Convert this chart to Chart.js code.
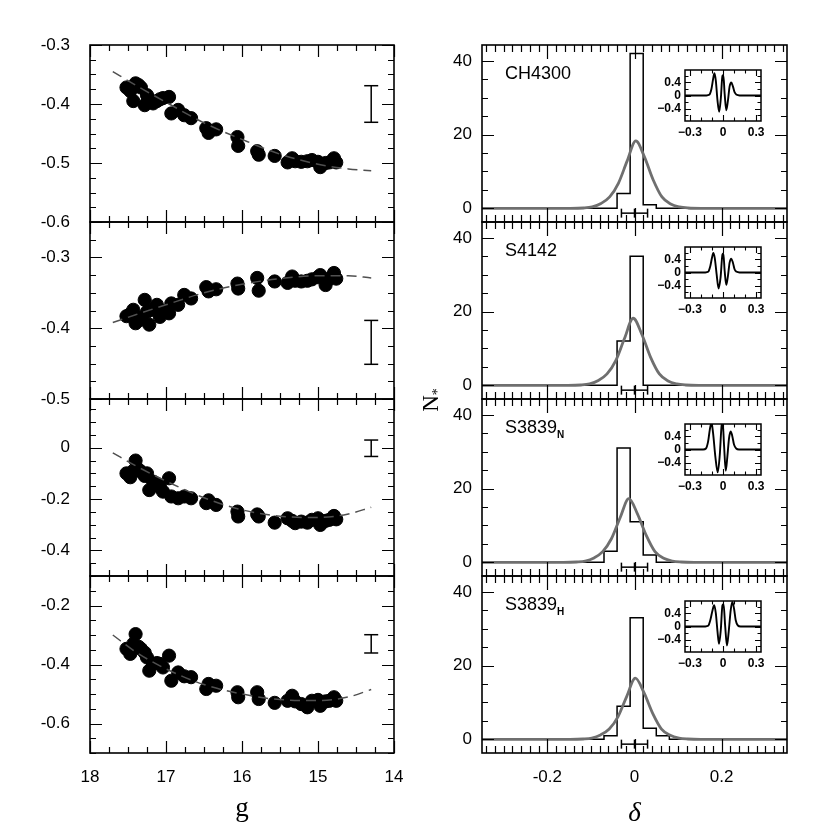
<!DOCTYPE html>
<html><head><meta charset="utf-8">
<script src="https://cdn.jsdelivr.net/npm/chart.js@4.4.1/dist/chart.umd.min.js"></script>
<style>
html,body{margin:0;padding:0;background:#fff;}
#wrap{position:relative;width:830px;height:830px;overflow:hidden;background:#fff;}
canvas{position:absolute;}
.lab{position:absolute;font-family:'Liberation Sans',Arial,sans-serif;font-size:18px;color:#000;white-space:nowrap;line-height:18px;}
.lab sub{font-size:10px;font-weight:bold;vertical-align:-5px;line-height:0;}
.ntitle{position:absolute;font-family:'Liberation Serif','Times New Roman',serif;font-size:23px;color:#000;width:50px;height:26px;line-height:26px;text-align:center;transform:rotate(-90deg);}
.ntitle sub{font-size:14px;vertical-align:-4px;line-height:0;}
</style></head><body><div id="wrap"></div>
<script>
// ---------------- data ----------------
const gMag = [17.52,17.47,17.43,17.40,17.36,17.33,17.28,17.25,17.22,17.17,17.12,17.08,17.04,16.96,16.93,16.84,16.76,16.67,16.47,16.44,16.34,16.06,16.05,15.80,15.78,15.57,15.40,15.34,15.30,15.22,15.14,15.08,15.00,14.97,14.90,14.85,14.79,14.76];
const idxCH4300 = [-0.372,-0.378,-0.395,-0.365,-0.368,-0.372,-0.402,-0.385,-0.392,-0.399,-0.395,-0.392,-0.390,-0.388,-0.416,-0.410,-0.419,-0.424,-0.441,-0.449,-0.443,-0.456,-0.471,-0.480,-0.486,-0.488,-0.499,-0.492,-0.497,-0.498,-0.497,-0.495,-0.498,-0.507,-0.500,-0.499,-0.492,-0.499];
const idxS4142 = [-0.383,-0.380,-0.374,-0.393,-0.385,-0.388,-0.360,-0.377,-0.395,-0.374,-0.367,-0.384,-0.376,-0.379,-0.365,-0.367,-0.353,-0.358,-0.342,-0.348,-0.345,-0.337,-0.344,-0.329,-0.347,-0.334,-0.336,-0.327,-0.333,-0.334,-0.333,-0.331,-0.328,-0.325,-0.339,-0.330,-0.322,-0.330];
const idxS3839N = [-0.100,-0.115,-0.090,-0.050,-0.085,-0.093,-0.110,-0.100,-0.165,-0.132,-0.140,-0.152,-0.171,-0.119,-0.190,-0.197,-0.190,-0.197,-0.216,-0.205,-0.223,-0.249,-0.268,-0.260,-0.268,-0.292,-0.275,-0.285,-0.294,-0.288,-0.292,-0.281,-0.275,-0.301,-0.285,-0.281,-0.266,-0.279];
const idxS3839H = [-0.347,-0.364,-0.330,-0.297,-0.340,-0.347,-0.360,-0.376,-0.421,-0.398,-0.395,-0.398,-0.410,-0.370,-0.455,-0.427,-0.440,-0.443,-0.483,-0.466,-0.472,-0.494,-0.511,-0.494,-0.517,-0.530,-0.523,-0.506,-0.525,-0.534,-0.545,-0.523,-0.520,-0.540,-0.525,-0.523,-0.511,-0.523];

const gFit = [17.7,17.4,17.0,16.5,16.0,15.5,15.0,14.6,14.3];
const fitCH4300 = [-0.345,-0.368,-0.397,-0.432,-0.460,-0.485,-0.502,-0.510,-0.513];
const fitS4142  = [-0.392,-0.381,-0.367,-0.350,-0.338,-0.330,-0.326,-0.326,-0.329];
const fitS3839N = [-0.020,-0.070,-0.130,-0.195,-0.242,-0.267,-0.272,-0.258,-0.232];
const fitS3839H = [-0.300,-0.357,-0.415,-0.468,-0.500,-0.519,-0.522,-0.510,-0.485];

const errG = 14.3;
const errCenter = [-0.400,-0.420,-0.002,-0.330];
const errHalf   = [0.031,0.031,0.032,0.031];

const gTicks = [18,17,16,15,14];
const yTicksLeft = [[-0.6,-0.5,-0.4,-0.3],[-0.5,-0.4,-0.3],[-0.4,-0.2,0],[-0.6,-0.4,-0.2]];
const yRangeLeft = [[-0.6,-0.3],[-0.5,-0.25],[-0.5,0.19],[-0.7,-0.1]];
const yMinorLeft = [0.025,0.025,0.05,0.05];

const labelNames = ['CH4300','S4142','S3839','S3839'];
const labelSubs  = ['','','N','H'];

const histEdges = [[-0.04,-0.01,0.02,0.05],[-0.04,-0.01,0.02],[-0.07,-0.04,-0.01,0.02,0.05],[-0.07,-0.04,-0.01,0.02,0.05,0.08]];
const histCounts = [[4,42,1],[12,35],[3,31,11,2],[1,9,33,3,1]];

const fitDelta1 = [-0.35,-0.147,-0.117,-0.097,-0.077,-0.057,-0.037,-0.017,0.003,0.023,0.043,0.063,0.083,0.103,0.123,0.153,0.35];
const fitN1     = [0,0,0.1,0.4,1.3,3.1,6.8,12.8,18.3,13.9,7.7,3.1,1.2,0.4,0.1,0,0];
const fitDelta2 = [-0.35,-0.153,-0.123,-0.103,-0.083,-0.063,-0.043,-0.023,-0.003,0.017,0.037,0.057,0.077,0.097,0.117,0.147,0.35];
const fitN2     = [0,0,0.1,0.4,1.3,3.1,6.7,12.7,18.2,13.8,7.6,3.1,1.2,0.4,0.1,0,0];
const fitDelta3 = [-0.35,-0.163,-0.133,-0.113,-0.093,-0.073,-0.053,-0.033,-0.013,0.007,0.027,0.047,0.067,0.087,0.107,0.137,0.35];
const fitN3     = [0,0,0.1,0.35,1.2,2.9,6.4,12.1,17.3,13.1,7.3,2.9,1.1,0.35,0.1,0,0];
const fitDelta4 = [-0.35,-0.148,-0.118,-0.098,-0.078,-0.058,-0.038,-0.018,0.002,0.022,0.042,0.062,0.082,0.102,0.122,0.152,0.35];
const fitN4     = [0,0,0.1,0.35,1.2,2.8,6.1,11.6,16.6,12.6,7.0,2.8,1.1,0.35,0.1,0,0];

const errDelta = [-0.03,0,0.03];
const errN = -1.3;

const deltaTicks = [-0.2,0,0.2];
const nTicks = [0,20,40];

const insetX1 = [-0.345,-0.15,-0.125,-0.105,-0.09,-0.078,-0.065,-0.05,-0.035,-0.02,-0.005,0.003,0.015,0.03,0.045,0.06,0.075,0.09,0.105,0.125,0.15,0.345];
const insetY1 = [0,0,0.02,0.2,0.5,0.68,0.45,-0.15,-0.5,-0.1,0.6,0.62,0.05,-0.45,-0.15,0.28,0.4,0.28,0.1,0.02,0,0];
const insetX2 = [-0.345,-0.16,-0.135,-0.115,-0.1,-0.088,-0.075,-0.058,-0.04,-0.022,-0.005,0.003,0.015,0.03,0.045,0.06,0.075,0.09,0.105,0.125,0.15,0.345];
const insetY2 = [0,0,0.02,0.2,0.45,0.6,0.45,-0.05,-0.49,-0.15,0.55,0.58,0.05,-0.38,-0.1,0.3,0.42,0.3,0.1,0.02,0,0];
const insetX3 = [-0.345,-0.18,-0.155,-0.135,-0.12,-0.105,-0.09,-0.07,-0.048,-0.03,-0.012,-0.003,0.01,0.025,0.04,0.055,0.07,0.085,0.1,0.12,0.145,0.345];
const insetY3 = [0,0,0.03,0.25,0.6,0.82,0.5,-0.2,-0.7,-0.2,0.75,0.82,0.1,-0.65,-0.2,0.35,0.55,0.4,0.15,0.03,0,0];
const insetX4 = [-0.345,-0.16,-0.135,-0.115,-0.095,-0.08,-0.065,-0.05,-0.036,-0.02,-0.005,0.005,0.02,0.036,0.052,0.07,0.085,0.1,0.115,0.135,0.16,0.345];
const insetY4 = [0,0,0.02,0.2,0.5,0.65,0.4,-0.15,-0.53,-0.1,0.65,0.68,0.0,-0.58,-0.15,0.5,0.75,0.55,0.2,0.03,0,0];
const insetXTicks = [-0.3,0,0.3];
const insetYTicks = [-0.4,0,0.4];

// ---------------- layout ----------------
const leftIdx = [idxCH4300, idxS4142, idxS3839N, idxS3839H];
const leftFit = [fitCH4300, fitS4142, fitS3839N, fitS3839H];
const rightFitX = [fitDelta1, fitDelta2, fitDelta3, fitDelta4];
const rightFitY = [fitN1, fitN2, fitN3, fitN4];
const insetXs = [insetX1, insetX2, insetX3, insetX4];
const insetYs = [insetY1, insetY2, insetY3, insetY4];

const SANS = "'Liberation Sans', Arial, Helvetica, sans-serif";
const SERIF = "'Liberation Serif', 'Times New Roman', serif";
const panelTop = [45, 222, 399, 576];
const panelH = 177;
const WRAP = document.getElementById('wrap');

function addCanvas(left, top, w, h) {
  const c = document.createElement('canvas');
  c.width = w; c.height = h;
  c.style.left = left + 'px'; c.style.top = top + 'px';
  c.style.width = w + 'px'; c.style.height = h + 'px';
  WRAP.appendChild(c);
  return c;
}
function minorVals(scale, step) {
  const lo = Math.min(scale.min, scale.max), hi = Math.max(scale.min, scale.max);
  const out = [];
  const k0 = Math.ceil(lo / step - 1e-6), k1 = Math.floor(hi / step + 1e-6);
  for (let k = k0; k <= k1; k++) out.push(+(k * step).toFixed(6));
  return out;
}
const frameTicks = {
  id: 'frameTicks',
  afterDatasetsDraw(chart, args, o) {
    const ctx = chart.ctx, a = chart.chartArea, xs = chart.scales.x, ys = chart.scales.y;
    ctx.save();
    ctx.strokeStyle = '#000';
    ctx.lineWidth = o.tw || 1.2;
    const near = (v, arr) => arr.some(m => Math.abs(m - v) < 1e-6);
    const mark = (scale, vals, len, horiz) => {
      ctx.beginPath();
      vals.forEach(v => {
        const p = Math.round(scale.getPixelForValue(v)) + 0.5;
        if (horiz) {
          ctx.moveTo(p, a.bottom); ctx.lineTo(p, a.bottom - len);
          ctx.moveTo(p, a.top); ctx.lineTo(p, a.top + len);
        } else {
          ctx.moveTo(a.left, p); ctx.lineTo(a.left + len, p);
          ctx.moveTo(a.right, p); ctx.lineTo(a.right - len, p);
        }
      });
      ctx.stroke();
    };
    const majX = xs.ticks.map(t => t.value), majY = ys.ticks.map(t => t.value);
    mark(xs, minorVals(xs, o.xMinor).filter(v => !near(v, majX)), o.xMin, true);
    mark(xs, majX, o.xMaj, true);
    mark(ys, minorVals(ys, o.yMinor).filter(v => !near(v, majY)), o.yMin, false);
    mark(ys, majY, o.yMaj, false);
    ctx.lineWidth = o.lw || 1.5;
    ctx.strokeRect(a.left, a.top, a.right - a.left, a.bottom - a.top);
    ctx.restore();
  }
};
function zeroPad(s) { s.paddingLeft = 0; s.paddingRight = 0; s.paddingTop = 0; s.paddingBottom = 0; }
const baseOpts = () => ({
  responsive: false, animation: false, devicePixelRatio: 1,
  events: [],
  plugins: { legend: { display: false }, tooltip: { enabled: false } },
  elements: { point: { radius: 0 }, line: { tension: 0 } }
});

// ---------------- left column ----------------
function leftChart(i) {
  const last = i === 3;
  const top = panelTop[i] - 15;
  const h = last ? 830 - top : panelH + 30;
  const c = addCanvas(0, top, 410, h);
  const pts = gMag.map((g, k) => ({ x: g, y: leftIdx[i][k] }));
  const fit = gFit.map((g, k) => ({ x: g, y: leftFit[i][k] }));
  const err = [{ x: errG, y: errCenter[i] - errHalf[i] }, { x: errG, y: errCenter[i] + errHalf[i] }];
  const o = baseOpts();
  o.layout = { autoPadding: false, padding: { top: 15, bottom: last ? 0 : 15, left: 0, right: 16 } };
  o.plugins.frameTicks = { xMinor: 0.25, yMinor: yMinorLeft[i], xMaj: 12, xMin: 6, yMaj: 12, yMin: 6, lw: 1.6, tw: 1.2 };
  o.scales = {
    x: {
      type: 'linear', reverse: true, min: 14, max: 18,
      grid: { display: false, drawTicks: false }, border: { display: false },
      afterBuildTicks: s => { s.ticks = gTicks.map(v => ({ value: v })); },
      afterFit: s => { s.height = last ? 77 : 0; zeroPad(s); },
      ticks: { display: last, padding: 14, color: '#000', font: { family: SANS, size: 17 }, callback: v => String(v), maxRotation: 0, autoSkip: false },
      title: { display: last, text: 'g', color: '#000', font: { family: SERIF, size: 27 }, padding: { top: 0, bottom: 5 } }
    },
    y: {
      type: 'linear', min: yRangeLeft[i][0], max: yRangeLeft[i][1],
      grid: { display: false, drawTicks: false }, border: { display: false },
      afterBuildTicks: s => { s.ticks = yTicksLeft[i].map(v => ({ value: v })); },
      afterFit: s => { s.width = 90; zeroPad(s); },
      ticks: { padding: 20, color: '#000', font: { family: SANS, size: 17 }, callback: v => String(v), autoSkip: false }
    }
  };
  new Chart(c, {
    type: 'line',
    data: { datasets: [
      { data: fit, borderColor: '#505050', borderWidth: 1.5, borderDash: [10, 6], pointRadius: 0, cubicInterpolationMode: 'monotone', order: 0 },
      { data: err, borderColor: '#000', borderWidth: 1.5, pointStyle: 'line', pointRadius: 7, pointBorderColor: '#000', pointBorderWidth: 1.5, order: 1 },
      { data: pts, showLine: false, pointRadius: 6.6, pointBackgroundColor: '#000', pointBorderColor: '#000', pointBorderWidth: 1, order: 2 }
    ] },
    options: o,
    plugins: [frameTicks]
  });
}

// ---------------- right column ----------------
function rightChart(i) {
  const last = i === 3;
  const top = panelTop[i] - 15;
  const h = last ? 830 - top : panelH + 30;
  const c = addCanvas(400, top, 430, h);
  const hist = [{ x: -0.35, y: 0 }];
  histCounts[i].forEach((n, k) => hist.push({ x: histEdges[i][k], y: n }));
  hist.push({ x: histEdges[i][histEdges[i].length - 1], y: 0 });
  hist.push({ x: 0.35, y: 0 });
  const fit = rightFitX[i].map((d, k) => ({ x: d, y: rightFitY[i][k] }));
  const err = errDelta.map(d => ({ x: d, y: errN }));
  const o = baseOpts();
  o.layout = { autoPadding: false, padding: { top: 15, bottom: last ? 0 : 15, left: 0, right: 43 } };
  o.plugins.frameTicks = { xMinor: 0.02, yMinor: 5, xMaj: 14, xMin: 7, yMaj: 12, yMin: 6, lw: 1.6, tw: 1.2 };
  o.scales = {
    x: {
      type: 'linear', min: -0.35, max: 0.35,
      grid: { display: false, drawTicks: false }, border: { display: false },
      afterBuildTicks: s => { s.ticks = deltaTicks.map(v => ({ value: v })); },
      afterFit: s => { s.height = last ? 77 : 0; zeroPad(s); },
      ticks: { display: last, padding: 14, color: '#000', font: { family: SANS, size: 17 }, callback: v => String(v), maxRotation: 0, autoSkip: false },
      title: { display: last, text: 'δ', color: '#000', font: { family: SERIF, size: 27, style: 'italic' }, padding: { top: 0, bottom: 0 } }
    },
    y: {
      type: 'linear', min: -3.7, max: 44.3,
      grid: { display: false, drawTicks: false }, border: { display: false },
      afterBuildTicks: s => { s.ticks = nTicks.map(v => ({ value: v })); },
      afterFit: s => { s.width = 82; zeroPad(s); },
      ticks: { padding: 10, color: '#000', font: { family: SANS, size: 17 }, callback: v => String(v), autoSkip: false }
    }
  };
  new Chart(c, {
    type: 'line',
    data: { datasets: [
      { data: fit, borderColor: '#6f6f6f', borderWidth: 2.8, pointRadius: 0, cubicInterpolationMode: 'monotone', order: 0 },
      { data: hist, borderColor: '#000', borderWidth: 1.5, pointRadius: 0, stepped: 'before', order: 1 },
      { data: err, borderColor: '#000', borderWidth: 1.5, pointStyle: 'line', pointRotation: 90, pointRadius: 4.5, pointBorderColor: '#000', pointBorderWidth: 1.5, order: 2 }
    ] },
    options: o,
    plugins: [frameTicks]
  });

  // inset
  const ic = addCanvas(640, panelTop[i] + 15, 135, 86);
  const io = baseOpts();
  const fmt = v => (v < 0 ? '\u2212' + String(Math.abs(v)) : String(v));
  io.layout = { autoPadding: false, padding: { top: 10, bottom: 0, left: 0, right: 14 } };
  io.plugins.frameTicks = { xMinor: 0.1, yMinor: 0.2, xMaj: 6, xMin: 3.5, yMaj: 6, yMin: 3.5, lw: 1.5, tw: 1.1 };
  io.scales = {
    x: {
      type: 'linear', min: -0.345, max: 0.345,
      grid: { display: false, drawTicks: false }, border: { display: false },
      afterBuildTicks: s => { s.ticks = insetXTicks.map(v => ({ value: v })); },
      afterFit: s => { s.height = 25; zeroPad(s); },
      ticks: { padding: 4, color: '#000', font: { family: SANS, size: 12, weight: 'bold' }, callback: fmt, maxRotation: 0, autoSkip: false }
    },
    y: {
      type: 'linear', min: -0.78, max: 0.78,
      grid: { display: false, drawTicks: false }, border: { display: false },
      afterBuildTicks: s => { s.ticks = insetYTicks.map(v => ({ value: v })); },
      afterFit: s => { s.width = 45; zeroPad(s); },
      ticks: { padding: 4, color: '#000', font: { family: SANS, size: 12, weight: 'bold' }, callback: fmt, autoSkip: false }
    }
  };
  new Chart(ic, {
    type: 'line',
    data: { datasets: [
      { data: insetXs[i].map((d, k) => ({ x: d, y: insetYs[i][k] })), borderColor: '#000', borderWidth: 1.9, pointRadius: 0, cubicInterpolationMode: 'monotone' }
    ] },
    options: io,
    plugins: [frameTicks]
  });

  // panel label
  const lab = document.createElement('div');
  lab.className = 'lab';
  lab.style.left = '505px';
  lab.style.top = (panelTop[i] + 19) + 'px';
  lab.textContent = labelNames[i];
  if (labelSubs[i]) { const s = document.createElement('sub'); s.textContent = labelSubs[i]; lab.appendChild(s); }
  WRAP.appendChild(lab);
}

for (let i = 0; i < 4; i++) { leftChart(i); rightChart(i); }

const nt = document.createElement('div');
nt.className = 'ntitle';
nt.style.left = '406px';
nt.style.top = '387px';
nt.innerHTML = 'N<sub>*</sub>';
WRAP.appendChild(nt);
</script></body></html>
